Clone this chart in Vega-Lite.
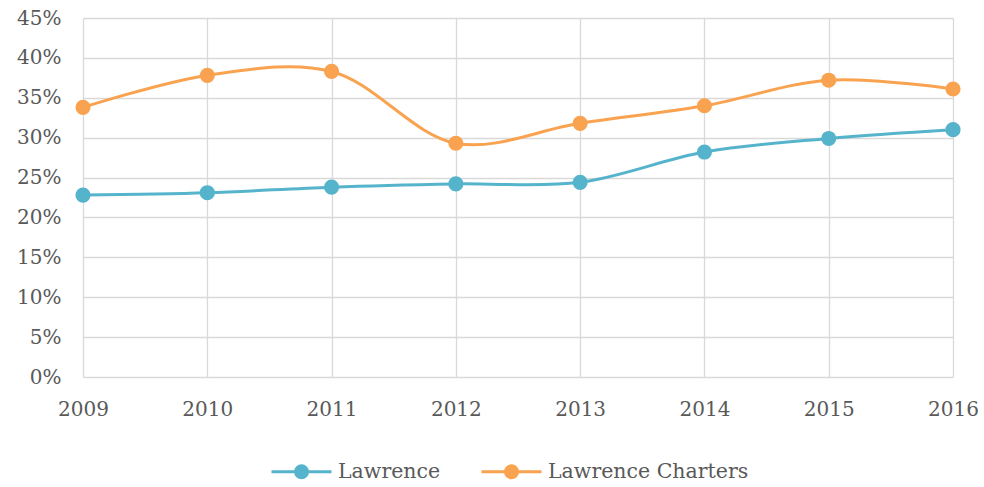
{
  "$schema": "https://vega.github.io/schema/vega-lite/v6.json",
  "width": 870,
  "height": 359,
  "autosize": {"type": "none"},
  "padding": {"left": 83, "top": 18, "right": 31, "bottom": 110},
  "background": "white",
  "config": {
    "view": {"stroke": null},
    "font": "DejaVu Serif",
    "axis": {"labelFont": "DejaVu Serif", "labelColor": "#595959", "labelFontSize": 20, "gridColor": "#d9d9d9", "gridWidth": 1.3, "domain": false, "ticks": false},
    "legend": {"labelFont": "DejaVu Serif", "labelColor": "#595959", "labelFontSize": 20.5, "labelLimit": 0}
  },
  "data": {
    "values": [
      {"year": 2009, "series": "Lawrence", "value": 0.228},
      {"year": 2010, "series": "Lawrence", "value": 0.231},
      {"year": 2011, "series": "Lawrence", "value": 0.238},
      {"year": 2012, "series": "Lawrence", "value": 0.242},
      {"year": 2013, "series": "Lawrence", "value": 0.244},
      {"year": 2014, "series": "Lawrence", "value": 0.282},
      {"year": 2015, "series": "Lawrence", "value": 0.299},
      {"year": 2016, "series": "Lawrence", "value": 0.310},
      {"year": 2009, "series": "Lawrence Charters", "value": 0.338},
      {"year": 2010, "series": "Lawrence Charters", "value": 0.378},
      {"year": 2011, "series": "Lawrence Charters", "value": 0.383},
      {"year": 2012, "series": "Lawrence Charters", "value": 0.293},
      {"year": 2013, "series": "Lawrence Charters", "value": 0.318},
      {"year": 2014, "series": "Lawrence Charters", "value": 0.340},
      {"year": 2015, "series": "Lawrence Charters", "value": 0.372},
      {"year": 2016, "series": "Lawrence Charters", "value": 0.361}
    ]
  },
  "mark": {"type": "line", "interpolate": "catmull-rom", "strokeWidth": 3, "point": {"size": 230, "filled": true, "opacity": 1}},
  "encoding": {
    "x": {
      "field": "year", "type": "quantitative",
      "scale": {"domain": [2009, 2016], "nice": false, "zero": false},
      "axis": {"title": null, "values": [2009, 2010, 2011, 2012, 2013, 2014, 2015, 2016], "format": "d", "labelPadding": 22, "labelFlush": false}
    },
    "y": {
      "field": "value", "type": "quantitative",
      "scale": {"domain": [0, 0.45], "nice": false},
      "axis": {"title": null, "values": [0, 0.05, 0.1, 0.15, 0.2, 0.25, 0.3, 0.35, 0.4, 0.45], "format": ".0%", "labelPadding": 22}
    },
    "color": {
      "field": "series", "type": "nominal",
      "scale": {"domain": ["Lawrence", "Lawrence Charters"], "range": ["#55b4cb", "#f9a350"]},
      "legend": {
        "title": null, "orient": "none", "direction": "horizontal", "legendX": 187, "legendY": 422,
        "symbolType": "M-1,0H1M-0.2,0A0.2,0.2 0 1,0 0.2,0A0.2,0.2 0 1,0 -0.2,0Z",
        "symbolSize": 3600, "symbolStrokeWidth": 3, "columnPadding": 34, "labelOffset": 5,
        "encode": {"symbols": {"update": {"fill": {"scale": "color", "field": "value"}, "stroke": {"scale": "color", "field": "value"}, "fillOpacity": {"value": 1}, "strokeOpacity": {"value": 1}}}}
      }
    }
  }
}
